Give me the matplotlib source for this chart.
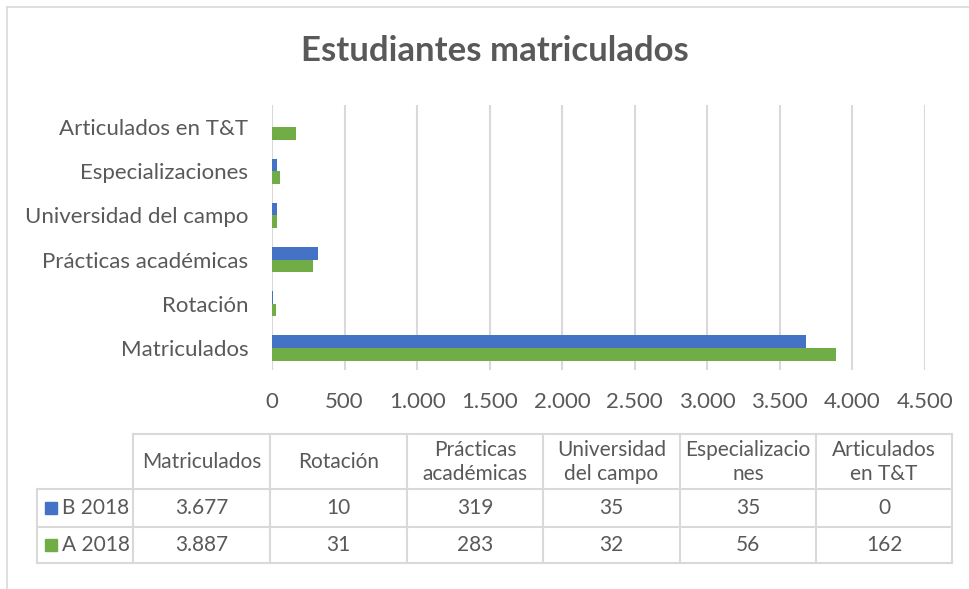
import numpy as np
import matplotlib
matplotlib.use("Agg")
import matplotlib.pyplot as plt
from matplotlib.lines import Line2D
from matplotlib.patches import Rectangle

plt.rcParams['font.family'] = ['Lato', 'DejaVu Sans']

# datos
categorias = ['Matriculados', 'Rotación', 'Prácticas académicas',
              'Universidad del campo', 'Especializaciones', 'Articulados en T&T']
encabezados = ['Matriculados', 'Rotación', 'Prácticas\nacadémicas',
               'Universidad\ndel campo', 'Especializacio\nnes', 'Articulados\nen T&T']
serie_b = [3677, 10, 319, 35, 35, 0]
serie_a = [3887, 31, 283, 32, 56, 162]
nombres = ['B 2018', 'A 2018']
colores = ['#4472C4', '#70AD47']
ticks_x = np.arange(0, 4501, 500)

W, H = 969, 589
GRIS = '#D9D9D9'
TEXTO = '#595959'

def fx(x):
    return x / W

def fy(y):
    return 1 - y / H

def miles(v):
    return f'{int(v):,}'.replace(',', '.')

fig = plt.figure(figsize=(W / 100, H / 100), dpi=100)

# borde del grafico
fig.add_artist(Line2D([fx(7), fx(7)], [fy(7), 0], color=GRIS, lw=1.2, transform=fig.transFigure))
fig.add_artist(Line2D([fx(7), 1], [fy(7), fy(7)], color=GRIS, lw=1.2, transform=fig.transFigure))

fig.text(fx(495), fy(51), 'Estudiantes matriculados', ha='center', va='center',
         fontsize=25, fontweight='bold', color=TEXTO)

ax = fig.add_axes([fx(272), fy(370), fx(925) - fx(272), fy(105) - fy(370)])
y = np.arange(len(categorias))
h = 0.287
ax.barh(y + h / 2, serie_b, height=h, color=colores[0], zorder=3)
ax.barh(y - h / 2, serie_a, height=h, color=colores[1], zorder=3)
ax.set_xlim(0, 4500)
ax.set_ylim(-0.5, len(categorias) - 0.5)
ax.set_xticks(ticks_x)
ax.set_xticklabels([miles(t) for t in ticks_x])
ax.set_yticks(y)
ax.set_yticklabels(categorias)
ax.grid(axis='x', color=GRIS, lw=1.5, zorder=0)
for s in ax.spines.values():
    s.set_visible(False)
ax.tick_params(axis='both', length=0, labelsize=16, colors=TEXTO)
ax.tick_params(axis='x', pad=16)
ax.tick_params(axis='y', pad=17)

# tabla de datos
cols = [133, 270, 407, 543, 680, 816, 952]
filas = [434, 489, 527, 563]
lab_x0 = 37
kw = dict(color=GRIS, lw=1.5, transform=fig.transFigure)
# lineas horizontales
fig.add_artist(Line2D([fx(cols[0]), fx(cols[-1])], [fy(filas[0])] * 2, **kw))
for yy in filas[1:]:
    fig.add_artist(Line2D([fx(lab_x0), fx(cols[-1])], [fy(yy)] * 2, **kw))
# lineas verticales
fig.add_artist(Line2D([fx(lab_x0)] * 2, [fy(filas[1]), fy(filas[3])], **kw))
for xx in cols:
    fig.add_artist(Line2D([fx(xx)] * 2, [fy(filas[0]), fy(filas[3])], **kw))

for i, enc in enumerate(encabezados):
    cx = (cols[i] + cols[i + 1]) / 2
    fig.text(fx(cx), fy((filas[0] + filas[1]) / 2), enc, ha='center', va='center',
             fontsize=15, color=TEXTO, linespacing=1.25)

for r, (nombre, serie, col) in enumerate(zip(nombres, [serie_b, serie_a], colores)):
    cy = (filas[r + 1] + filas[r + 2]) / 2
    fig.add_artist(Rectangle((fx(45), fy(cy + 6)), fx(12), 12 / H, color=col,
                             transform=fig.transFigure))
    fig.text(fx(62), fy(cy), nombre, ha='left', va='center', fontsize=15, color=TEXTO)
    for i, v in enumerate(serie):
        cx = (cols[i] + cols[i + 1]) / 2
        fig.text(fx(cx), fy(cy), miles(v), ha='center', va='center',
                 fontsize=15, color=TEXTO)

fig.savefig('out.png', dpi=100)
